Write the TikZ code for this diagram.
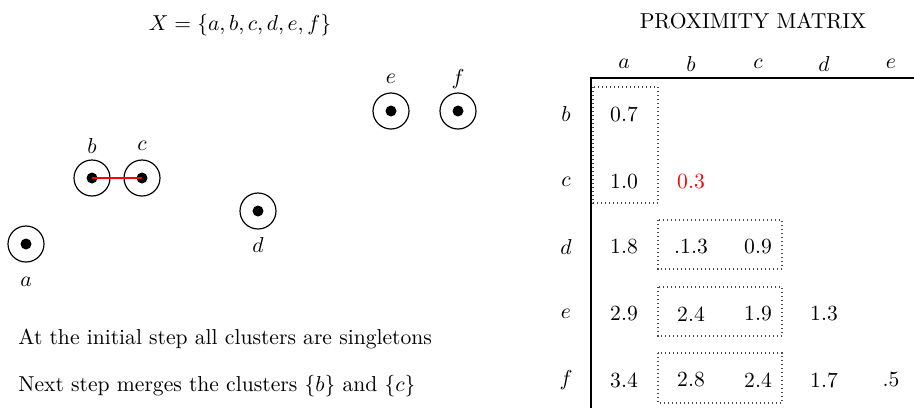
\documentclass[tikz,border=0pt]{standalone}
\begin{document}
\begin{tikzpicture}[x=0.463pt,y=-0.463pt,
  ring/.style={circle,draw,line width=0.55pt,minimum size=36*0.463pt,inner sep=0pt},
  dot/.style={circle,fill=black,minimum size=11*0.463pt,inner sep=0pt},
  lab/.style={inner sep=0pt},
  val/.style={inner sep=0pt},
  dbox/.style={draw,dash pattern=on 0.5pt off 1.35pt,gray!60!black,line width=0.6pt}]
\useasboundingbox (0,0) rectangle (914,408);
% title
\node[lab] (title) at (240,25) {$X=\{a,b,c,d,e,f\}$};
\node[lab] (ptitle) at (753,21) {PROXIMITY MATRIX};
% points
\foreach \n/\x/\y in {a/26/244,b/92/178,c/142/178,d/258/211,e/391/111,f/458/111}{
  \node[ring] (r\n) at (\x,\y) {};
  \node[dot] (p\n) at (\x,\y) {};
}
\draw[red,line width=0.55pt] (pb.center) -- (pc.center);
\node[lab] (la) at (26,282) {$a$};
\node[lab] (lb) at (92,146) {$b$};
\node[lab] (lc) at (142,146) {$c$};
\node[lab] (ld) at (258,245) {$d$};
\node[lab] (le) at (391,79) {$e$};
\node[lab] (lf) at (458,79) {$f$};
% text
\node[anchor=west,inner sep=0pt] (t1) at (18,339) {At the initial step all clusters are singletons};
\node[anchor=west,inner sep=0pt] (t2) at (18,386) {Next step merges the clusters $\{b\}$ and $\{c\}$};
% matrix headers
\foreach \n/\x in {a/624,b/691,c/758,d/824,e/891}{
  \node[lab] (h\n) at (\x,64) {$\n$};
}
\foreach \n/\y in {b/114,c/182,d/247,e/314,f/380}{
  \node[lab] (v\n) at (566,\y) {$\n$};
}
\coordinate (corner) at (591,78);
\coordinate (hend) at (914,78);
\coordinate (vend) at (591,408);
\draw[line width=0.55pt] (hend) -- (corner) -- (vend);
% values
\node[val] (ba) at (624,114) {0.7};
\node[val] (ca) at (624,182) {1.0};
\node[val,red] (cb) at (691,182) {0.3};
\node[val] (da) at (624,247) {1.8};
\node[val] (db) at (691,247) {.1.3};
\node[val] (dc) at (758,247) {0.9};
\node[val] (ea) at (624,314) {2.9};
\node[val] (eb) at (691,314) {2.4};
\node[val] (ec) at (758,314) {1.9};
\node[val] (ed) at (824,314) {1.3};
\node[val] (fa) at (624,380) {3.4};
\node[val] (fb) at (691,380) {2.8};
\node[val] (fc) at (758,380) {2.4};
\node[val] (fd) at (824,380) {1.7};
\node[val] (fe) at (891,380) {.5};
% dotted boxes
\draw[dbox] (593,87) rectangle (658,203);
\draw[dbox] (658,220) rectangle (782,269);
\draw[dbox] (658,287) rectangle (782,336);
\draw[dbox] (658,353) rectangle (782,403);
\end{tikzpicture}
\end{document}
